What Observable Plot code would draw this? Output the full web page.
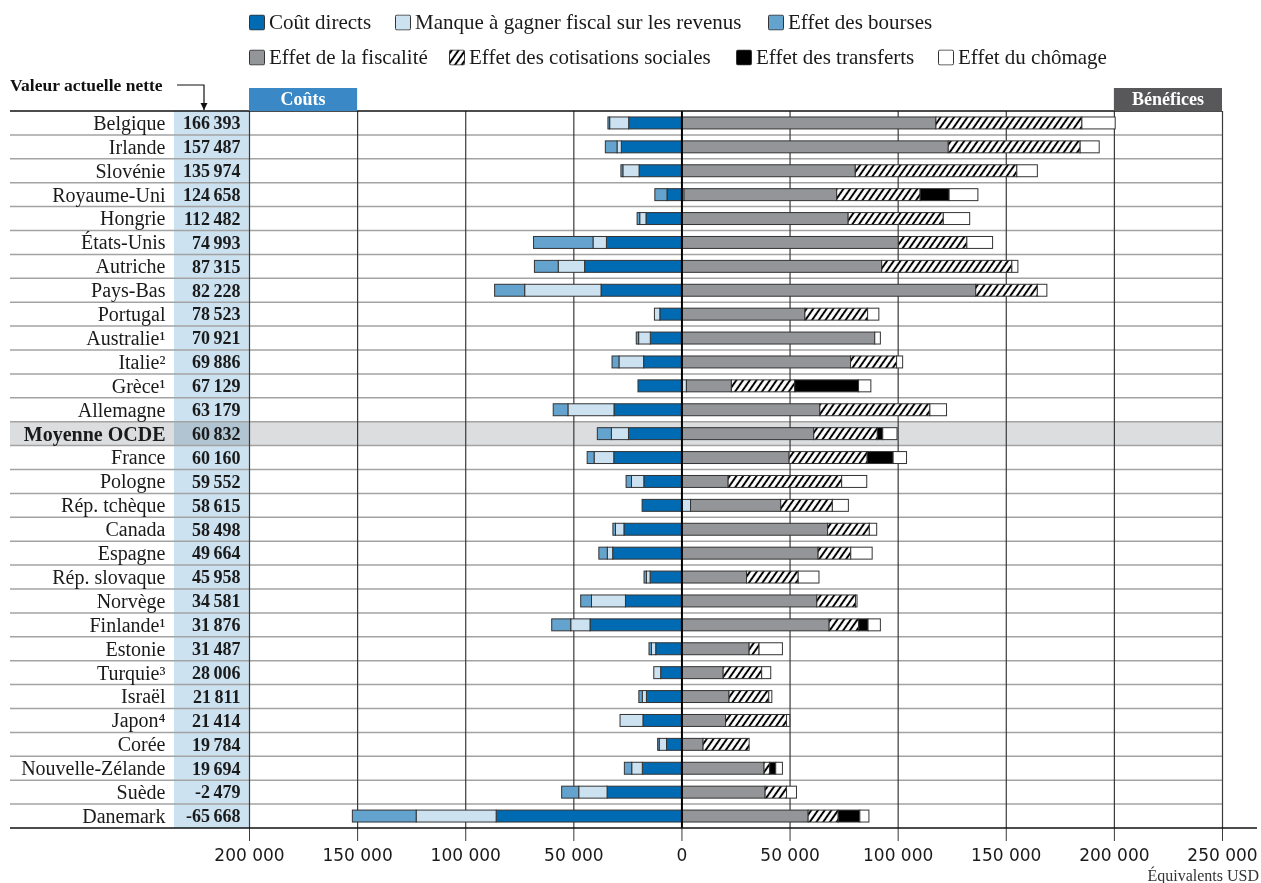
<!DOCTYPE html>
<html><head><meta charset="utf-8">
<script src="https://cdn.jsdelivr.net/npm/d3@7"></script>
<script src="https://cdn.jsdelivr.net/npm/@observablehq/plot@0.6"></script>
<style>
body{margin:0;background:#fff;width:1261px;height:883px;overflow:hidden;font-family:"Liberation Serif",serif;color:#1a1a1a;}
#legend{position:relative;height:75px;}
.item{position:absolute;display:flex;align-items:center;font-size:21px;white-space:nowrap;transform:translateY(-50%);}
.sw{width:16px;height:16px;margin-right:4px;}
</style></head><body>
<svg width="0" height="0" style="position:absolute">
  <defs>
    <pattern id="hatch" width="5.5" height="5.5" patternUnits="userSpaceOnUse" patternTransform="rotate(35)">
      <rect width="5.5" height="5.5" fill="#fff"></rect>
      <line x1="2.75" y1="0" x2="2.75" y2="5.5" stroke="#000" stroke-width="2"></line>
    </pattern>
    <marker id="arrowhead" viewBox="0 0 10 10" refX="10" refY="5" markerWidth="6" markerHeight="6" orient="auto">
      <path d="M0,0 L10,5 L0,10 z" fill="#111"></path>
    </marker>
  </defs>
</svg>
<div id="legend"></div>
<div id="chart"></div>
<script>
const countries = ["Belgique","Irlande","Slovénie","Royaume-Uni","Hongrie","États-Unis","Autriche","Pays-Bas","Portugal","Australie¹","Italie²","Grèce¹","Allemagne","Moyenne OCDE","France","Pologne","Rép. tchèque","Canada","Espagne","Rép. slovaque","Norvège","Finlande¹","Estonie","Turquie³","Israël","Japon⁴","Corée","Nouvelle-Zélande","Suède","Danemark"];
const npv = [166393,157487,135974,124658,112482,74993,87315,82228,78523,70921,69886,67129,63179,60832,60160,59552,58615,58498,49664,45958,34581,31876,31487,28006,21811,21414,19784,19694,-2479,-65668];

const direct  = [-24400,-27800,-19600,-6700,-16400,-34700,-44800,-37200,-10000,-14400,-17500,-20100,-31200,-24500,-31300,-17400,-18200,-26600,-31800,-14500,-25900,-42300,-11900,-9600,-16200,-17800,-6900,-18100,-34400,-85700];
const manque  = [-8800,-2000,-7500,1200,-2900,-6200,-12200,-35300,-2500,-5400,-11400,2300,-21300,-7900,-9100,-5700,4200,-3900,-2500,-1700,-15700,-8900,-2000,-3200,-1900,-10600,-3400,-4900,-13100,-37000];
const bourses = [-800,-5400,-900,-5600,-1200,-27500,-11000,-13900,0,-1100,-3200,0,-6800,-6500,-3200,-2500,0,-1200,-3900,-1100,-5000,-8800,-1100,0,-1600,0,-700,-3400,-7900,-29500];
const fiscalite   = [117700,123400,80400,70600,77100,100300,92600,136100,57100,89400,78200,20800,64000,61200,49800,21600,41700,67600,63200,30100,62600,68300,31300,19300,22000,20400,10000,38200,38700,58600];
const cotisations = [67500,61000,74700,38600,44000,31700,60200,28500,29000,0,21300,29300,50900,29400,36100,52500,23900,19300,15100,23900,17900,13700,4600,17800,18400,28200,21300,2600,9900,13900];
const transferts  = [0,0,0,13400,0,0,0,0,0,0,0,29500,0,2500,12000,0,0,0,0,0,0,4300,0,0,0,0,0,2800,0,10000];
const chomage     = [15400,8800,9500,13300,12200,11900,2800,4400,5200,2600,2800,5700,7700,6600,6200,11600,7400,3400,9900,9600,700,5700,10800,4200,1400,1500,0,3100,4600,4200];

const seriesNames = ["Coût directs","Manque à gagner fiscal sur les revenus","Effet des bourses","Effet de la fiscalité","Effet des cotisations sociales","Effet des transferts","Effet du chômage"];
const seriesColors = ["#006ab2","#cde2f1","#63a3ce","#939598","url(#hatch)","#000000","#ffffff"];
const seriesValues = [direct, manque, bourses, fiscalite, cotisations, transferts, chomage];
const xTicks = [-200000,-150000,-100000,-50000,0,50000,100000,150000,200000,250000];
const avg = "Moyenne OCDE";

// legend
const legendPos = [[249,22],[395,22],[768,22],[249,57],[449,57],[736,57],[938,57]];
const legend = d3.select("#legend");
seriesNames.forEach((s,i)=>{
  const it = legend.append("div").attr("class","item").style("left",legendPos[i][0]+"px").style("top",legendPos[i][1]+"px");
  const sv = it.append("svg").attr("class","sw").attr("width",16).attr("height",16);
  sv.append("rect").attr("x",0.5).attr("y",0.5).attr("width",15).attr("height",15).attr("rx",1.5)
    .attr("fill",seriesColors[i]).attr("stroke","#333").attr("stroke-width",1);
  it.append("span").text(s);
});

const rows = [];
seriesNames.forEach((s,si)=>countries.forEach((c,ci)=>{
  const v = seriesValues[si][ci];
  if (v !== 0) rows.push({country:c, series:s, value:v});
}));

const loc = d3.formatLocale({decimal:",", thousands:"\u2009", grouping:[3], currency:["",""], minus:"-"});
const locAxis = d3.formatLocale({decimal:",", thousands:" ", grouping:[3], currency:["",""], minus:"-"});
const fmtNpv = loc.format(",d");
const fmtAxis = locAxis.format(",d");

const H = 808, MT = 36, MB = 55;
const plot = Plot.plot({
  width: 1261, height: H,
  marginTop: MT, marginBottom: MB, marginLeft: 249, marginRight: 39,
  style: {fontFamily: "Liberation Serif", fontSize: "20px", color: "#1a1a1a", background: "transparent"},
  x: {domain: [-200000, 250000], label: null},
  y: {domain: countries, paddingInner: 0.5, paddingOuter: 0.25, round: false, label: null},
  color: {domain: seriesNames, range: seriesColors},
  marks: [
    Plot.ruleX(xTicks.filter(t => t !== 0), {stroke: "#3a3a3a", strokeWidth: 1.2}),
    Plot.barX(rows, Plot.stackX({y: "country", x: "value", fill: "series", z: "series", stroke: "#333", strokeWidth: 1})),
    Plot.ruleX([0], {stroke: "#000", strokeWidth: 2}),
    Plot.axisX({ticks: xTicks, tickFormat: d => fmtAxis(Math.abs(d)), tickSize: 13, tickPadding: 7, fontFamily: "DejaVu Sans", fontSize: 17, stroke: "#3a3a3a", label: null}),
    Plot.axisY(countries.filter(c => c !== avg), {tickSize: 0, tickPadding: 84, label: null, fontSize: 20}),
    Plot.axisY([avg], {tickSize: 0, tickPadding: 84, label: null, fontSize: 20, fontWeight: "bold"}),
    Plot.text(countries, {y: d => d, text: (d, i) => fmtNpv(npv[i]), frameAnchor: "left", dx: -9, textAnchor: "end", fontWeight: "bold", fontSize: 18})
  ]
});
document.getElementById("chart").appendChild(plot);

// decorations
const svg = d3.select(plot);
const X = plot.scale("x");
const yTop = MT, yBot = H - MB;
const step = (yBot - yTop) / countries.length;
const xL = X.apply(-200000), xR = X.apply(250000);
const bg = svg.insert("g", "g");
bg.append("rect").attr("x", 174).attr("y", yTop).attr("width", xL - 174).attr("height", yBot - yTop).attr("fill", "#cde2f1");
const ai = countries.indexOf(avg);
bg.append("rect").attr("x", 10).attr("y", yTop + ai*step).attr("width", xR - 10).attr("height", step)
  .attr("fill", "#dcdddf").style("mix-blend-mode", "multiply");
for (let k = 1; k < countries.length; k++) {
  bg.append("line").attr("x1", 10).attr("x2", xR).attr("y1", yTop + k*step).attr("y2", yTop + k*step)
    .attr("stroke", "#a3a3a3").attr("stroke-width", 1.5);
}
const fg = svg.append("g").attr("text-anchor", "start");
fg.append("line").attr("x1", 10).attr("x2", xR).attr("y1", yTop).attr("y2", yTop).attr("stroke", "#111").attr("stroke-width", 1.6);
fg.append("line").attr("x1", 10).attr("x2", 1257).attr("y1", yBot).attr("y2", yBot).attr("stroke", "#111").attr("stroke-width", 1.6);
const hdr = [["Coûts", -200000, -150000, "#3a88c5"], ["Bénéfices", 200000, 250000, "#58585a"]];
hdr.forEach(([t, a, b, c]) => {
  const x1 = X.apply(a), x2 = X.apply(b);
  fg.append("rect").attr("x", x1).attr("y", yTop - 23).attr("width", x2 - x1).attr("height", 23).attr("fill", c);
  fg.append("text").attr("x", (x1 + x2)/2).attr("y", yTop - 6).attr("text-anchor", "middle")
    .attr("fill", "#fff").attr("font-weight", "bold").attr("font-size", 18).attr("font-family", "Liberation Serif").text(t);
});
fg.append("text").attr("x", 10).attr("y", 16).attr("font-weight", "bold").attr("font-size", 17.5).attr("text-anchor", "start")
  .attr("font-family", "Liberation Serif").attr("fill", "#111").text("Valeur actuelle nette");
fg.append("path").attr("d", `M177,10 H204 V${yTop - 1}`).attr("fill", "none").attr("stroke", "#111").attr("stroke-width", 1.2)
  .attr("marker-end", "url(#arrowhead)");
fg.append("text").attr("x", 1259).attr("y", H - 2).attr("text-anchor", "end").attr("font-size", 16)
  .attr("font-family", "Liberation Serif").attr("fill", "#333").text("Équivalents USD");
</script>
</body></html>
